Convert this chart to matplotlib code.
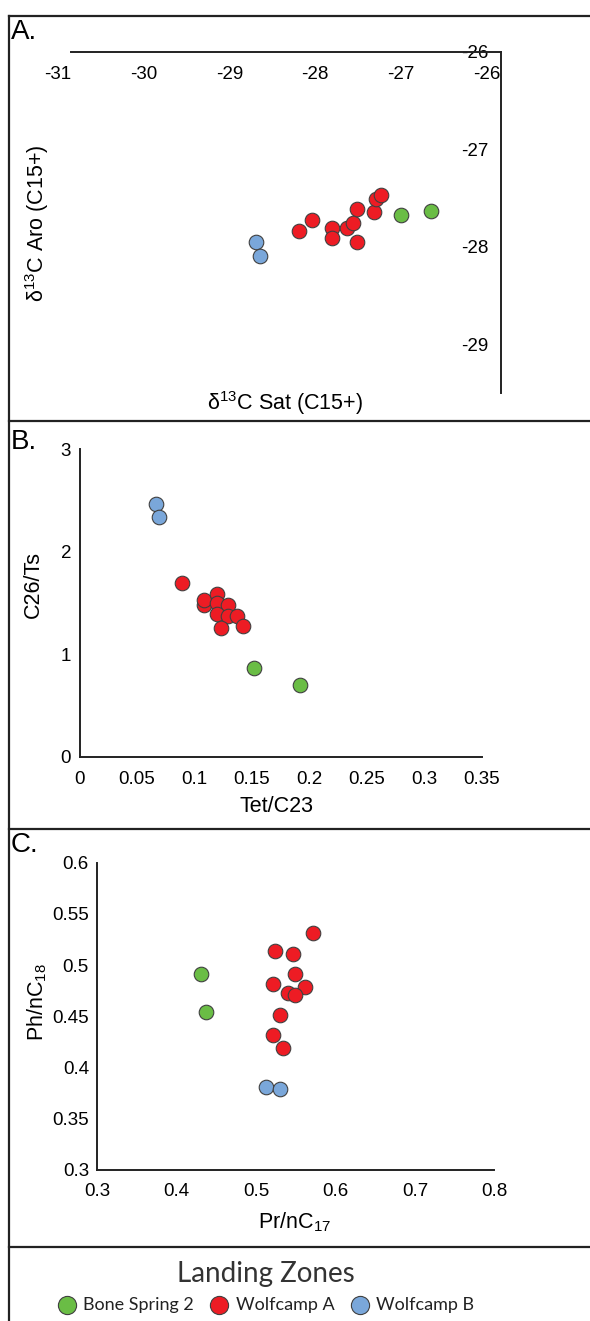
import matplotlib.pyplot as plt
from matplotlib.lines import Line2D

plt.rcParams["font.family"] = ["Liberation Sans", "DejaVu Sans"]
plt.rcParams["mathtext.fontset"] = "custom"
plt.rcParams["mathtext.rm"] = "Liberation Sans"
plt.rcParams["mathtext.it"] = "Liberation Sans:italic"
plt.rcParams["axes.unicode_minus"] = False

zones = ["Bone Spring 2", "Wolfcamp A", "Wolfcamp B"]
colors = ["#6abd45", "#ed1c24", "#7aa7da"]

# A. d13C saturates vs aromatics
sat_bs2 = [-27.16, -26.81]
aro_bs2 = [-27.67, -27.63]
sat_wa = [-28.35, -28.20, -27.97, -27.97, -27.79, -27.72, -27.68, -27.68, -27.48, -27.45, -27.40]
aro_wa = [-27.84, -27.72, -27.81, -27.91, -27.81, -27.76, -27.95, -27.61, -27.64, -27.51, -27.47]
sat_wb = [-28.85, -28.80]
aro_wb = [-27.95, -28.09]

# B. Tet/C23 vs C26/Ts
tet_bs2 = [0.152, 0.192]
c26_bs2 = [0.86, 0.70]
tet_wa = [0.089, 0.108, 0.108, 0.120, 0.120, 0.129, 0.120, 0.129, 0.137, 0.123, 0.142]
c26_wa = [1.69, 1.48, 1.53, 1.59, 1.50, 1.48, 1.39, 1.37, 1.37, 1.25, 1.27]
tet_wb = [0.067, 0.069]
c26_wb = [2.46, 2.34]

# C. Pr/nC17 vs Ph/nC18
pr_bs2 = [0.430, 0.437]
ph_bs2 = [0.491, 0.454]
pr_wa = [0.572, 0.524, 0.546, 0.549, 0.521, 0.561, 0.540, 0.549, 0.530, 0.521, 0.534]
ph_wa = [0.531, 0.514, 0.511, 0.491, 0.482, 0.479, 0.473, 0.471, 0.451, 0.432, 0.419]
pr_wb = [0.512, 0.530]
ph_wb = [0.381, 0.379]

W, H = 590, 1321
fig = plt.figure(figsize=(W / 100, H / 100), dpi=100)

line_col = "#222222"
tick_fs = 13.5
lab_fs = 15.5


def box(left, top, right, bottom):
    return [left / W, 1 - bottom / H, (right - left) / W, (bottom - top) / H]


def scatter_all(ax, xs, ys):
    for x, y, c, z in zip(xs, ys, colors, zones):
        ax.scatter(x, y, s=110, color=c, edgecolor="#404040", linewidth=0.8, label=z, zorder=3)


def style(ax):
    for sp in ["top", "right"]:
        ax.spines[sp].set_visible(False)
    for sp in ["bottom", "left"]:
        ax.spines[sp].set_color(line_col)
        ax.spines[sp].set_linewidth(1.4)
    ax.tick_params(length=0, labelsize=tick_fs)


# panel A
axA = fig.add_axes(box(71, 52, 501, 393))
scatter_all(axA, [sat_bs2, sat_wa, sat_wb], [aro_bs2, aro_wa, aro_wb])
axA.set_xlim(-31, -26)
axA.set_ylim(-29.5, -26)
axA.set_xticks([-31, -30, -29, -28, -27, -26])
axA.set_yticks([-29, -28, -27, -26])
style(axA)
axA.spines["bottom"].set_position(("data", -26))
axA.spines["left"].set_position(("data", -26))
axA.tick_params(axis="x", pad=10)
axA.tick_params(axis="y", pad=9)
for lbl in axA.get_xticklabels():
    lbl.set_ha("right")
fig.text(37 / W, 1 - 223 / H, "δ$^{13}$C Aro (C15+)", rotation=90, ha="center", va="center", fontsize=lab_fs)
fig.text(285 / W, 1 - 403 / H, "δ$^{13}$C Sat (C15+)", ha="center", va="center", fontsize=lab_fs)

# panel B
axB = fig.add_axes(box(79.5, 449, 481.5, 756.7))
scatter_all(axB, [tet_bs2, tet_wa, tet_wb], [c26_bs2, c26_wa, c26_wb])
axB.set_xlim(0, 0.35)
axB.set_ylim(0, 3)
axB.set_xticks([0, 0.05, 0.1, 0.15, 0.2, 0.25, 0.3, 0.35])
axB.set_xticklabels(["0", "0.05", "0.1", "0.15", "0.2", "0.25", "0.3", "0.35"])
axB.set_yticks([0, 1, 2, 3])
style(axB)
axB.tick_params(axis="x", pad=10)
axB.tick_params(axis="y", pad=6)
fig.text(277 / W, 1 - 806 / H, "Tet/C23", ha="center", va="center", fontsize=lab_fs)
fig.text(33 / W, 1 - 585 / H, "C26/Ts", rotation=90, ha="center", va="center", fontsize=lab_fs)

# panel C
axC = fig.add_axes(box(97.3, 862.7, 494.3, 1170))
scatter_all(axC, [pr_bs2, pr_wa, pr_wb], [ph_bs2, ph_wa, ph_wb])
axC.set_xlim(0.3, 0.8)
axC.set_ylim(0.3, 0.6)
axC.set_xticks([0.3, 0.4, 0.5, 0.6, 0.7, 0.8])
axC.set_yticks([0.3, 0.35, 0.4, 0.45, 0.5, 0.55, 0.6])
axC.set_yticklabels(["0.3", "0.35", "0.4", "0.45", "0.5", "0.55", "0.6"])
style(axC)
axC.tick_params(axis="x", pad=9)
axC.tick_params(axis="y", pad=6)
fig.text(295 / W, 1 - 1222 / H, "Pr/nC$_{17}$", ha="center", va="center", fontsize=lab_fs)
fig.text(37 / W, 1 - 1002 / H, "Ph/nC$_{18}$", rotation=90, ha="center", va="center", fontsize=lab_fs)

# panel letters
for txt, y in [("A.", 32), ("B.", 442), ("C.", 845)]:
    fig.text(11 / W, 1 - y / H, txt, ha="left", va="center", fontsize=20)

# frame lines
for y in [16, 421, 829, 1247]:
    fig.add_artist(Line2D([9 / W, 1], [1 - y / H, 1 - y / H], color=line_col, lw=1.6))
fig.add_artist(Line2D([9 / W, 9 / W], [1 - 16 / H, 0], color=line_col, lw=1.6))

# legend
handles, labels = axC.get_legend_handles_labels()
leg = fig.legend(handles, labels, loc="center", bbox_to_anchor=(266 / W, 1 - 1287 / H), ncol=3,
                 frameon=False, title="Landing Zones", handletextpad=0.4, columnspacing=0.9,
                 handlelength=1.0, markerscale=1.25,
                 prop={"family": "Lato", "size": 13}, borderaxespad=0)
leg.get_title().set_fontfamily("Lato")
leg.get_title().set_fontsize(20)
leg.get_title().set_color("#333333")
for t in leg.get_texts():
    t.set_color("#222222")

fig.savefig("out.png", dpi=100)
